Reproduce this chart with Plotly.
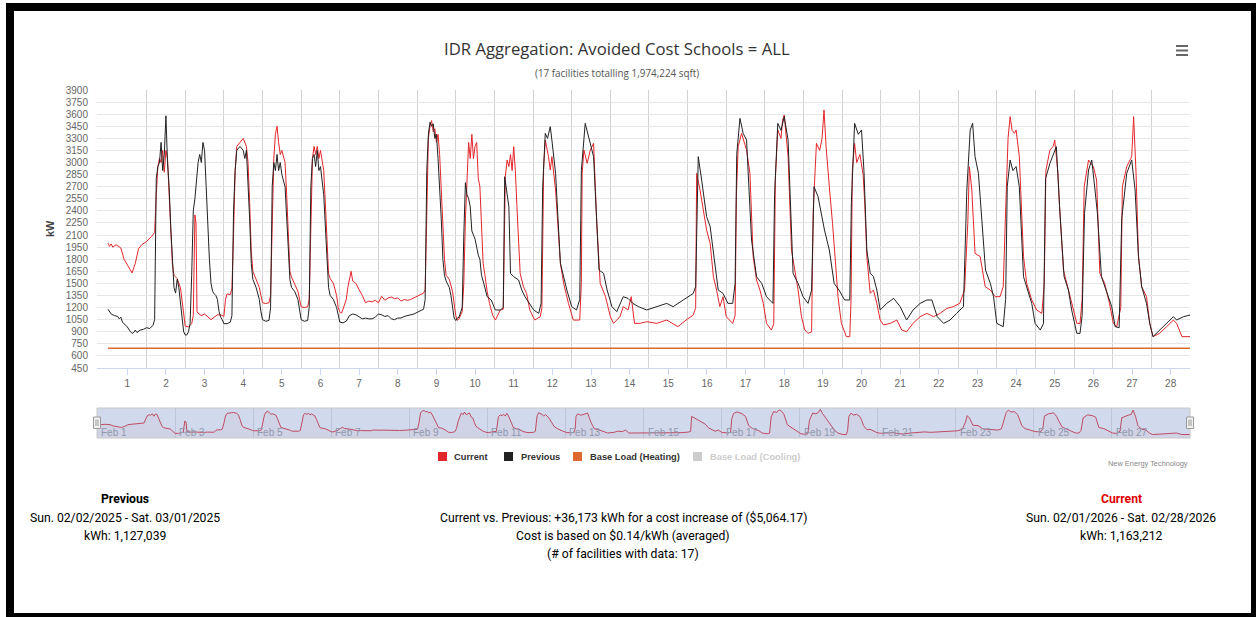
import plotly.graph_objects as go

# ---------------- data ----------------
days = [str(d) for d in range(1, 29)]
nav_labels = ["Feb 1", "Feb 3", "Feb 5", "Feb 7", "Feb 9", "Feb 11", "Feb 13",
              "Feb 15", "Feb 17", "Feb 19", "Feb 21", "Feb 23", "Feb 25", "Feb 27"]

# hours since Feb 1 00:00 and kW (Current)
cur_h = [0, 1, 2, 3, 5, 8, 10, 12, 14, 15, 17, 19, 21, 24, 27, 29, 30, 31, 32, 33, 34, 35, 36, 37, 38, 39, 40, 41, 43, 45,
         46, 47, 48, 50, 52, 53, 54, 54.7, 55.3, 56, 58, 60, 62, 64, 66, 68, 70, 72, 73, 74, 76, 77, 78, 79, 80, 82, 84, 86, 87, 88,
         89, 90, 92, 94, 95, 96, 98, 100, 101, 102, 103, 104, 105, 106, 107, 108, 110, 111, 112, 113, 114, 116, 118, 119, 120, 122, 124, 125, 126, 127,
         128, 129, 130, 131, 132, 134, 135, 136, 137, 138, 140, 142, 143, 144, 145, 146, 148, 149, 150, 151, 152, 154, 156, 158, 160, 162, 164, 166, 168, 170,
         172, 174, 176, 178, 180, 182, 184, 186, 188, 190, 192, 194, 196, 197, 198, 199, 200, 201, 202, 203, 204, 205, 206, 207, 208, 209, 210, 212, 214, 215,
         216, 217, 218, 220, 221, 222, 223, 224, 225, 226, 227, 228, 229, 230, 231, 232, 233, 234, 235.5, 237, 239, 240.6, 243.7, 245.5, 246.8, 247.9, 249, 250,
         251, 252, 253, 254, 256, 258, 260, 262, 265, 268.5, 269.5, 270.6, 271.6, 273.6, 274.7, 275.7, 278, 281, 283, 286, 289, 293, 294, 294.5, 295.6, 297.6,
         299.6, 301.6, 303.6, 305.7, 309, 312, 314, 318, 320, 323, 325, 327, 330.5, 334.6, 340.8, 347, 351, 354, 359, 363.5, 365, 365.6, 367.7, 371.8,
         374, 376, 378, 380, 382, 384, 388, 389.5, 390.3, 391.4, 393.5, 395.5, 396.6, 398.7, 400.7, 402.8, 404.9, 407, 409, 412, 413.5, 414.5, 416, 418,
         419, 420, 421, 422.4, 424.5, 426.6, 428.6, 430.7, 432.8, 434.8, 437, 438, 440, 442, 443.5, 444.7, 446, 448, 450, 453.4, 455.5, 458.6, 460.7, 461.5,
         462.3, 463.7, 465, 467, 469, 470, 471.3, 473.4, 475.4, 477.5, 479.6, 481.7, 485.8, 490, 493, 496, 500, 504.4, 508.6, 512.7, 516.8, 521, 525, 529,
         532, 534, 535, 536.5, 538.5, 541.7, 544.8, 548, 551, 554, 556, 557.5, 559, 560.3, 561.5, 563, 564, 566, 568.6, 570.6, 573.7, 576.8, 580, 581.5,
         582.5, 585, 587, 588, 590, 591, 593.4, 595.5, 598.5, 601.7, 603.7, 605, 606.3, 609, 610.5, 612, 614, 616, 619, 622, 624.4, 626.5, 629, 630,
         632.7, 634, 635.8, 637, 638.5, 640, 642, 645, 647, 649, 653, 657.5, 661.7, 663.7, 667, 672]
cur_v = [2000, 1960, 1990, 1950, 1980, 1940, 1800, 1730, 1660, 1630, 1750, 1930, 1980, 2020, 2080, 2130, 2600, 2950, 3050, 3000, 3150, 2880, 3150, 3050, 2600, 2100, 1750, 1600, 1560, 1450,
         1300, 1100, 970, 960, 1000, 1100, 2350, 2250, 1150, 1130, 1100, 1120, 1080, 1050, 1080, 1110, 1110, 1090, 1300, 1370, 1360, 1440, 2100, 2900, 3200, 3250, 3300, 3200, 3000, 2500,
         1900, 1650, 1550, 1450, 1350, 1260, 1250, 1260, 1350, 2400, 3050, 3350, 3450, 3250, 3100, 3150, 3000, 2600, 2000, 1650, 1580, 1500, 1400, 1300, 1210, 1200, 1210, 1300, 2400, 3050,
         3200, 3100, 3200, 3050, 3150, 2900, 2500, 2000, 1620, 1560, 1500, 1350, 1200, 1150, 1130, 1180, 1300, 1450, 1580, 1650, 1530, 1500, 1420, 1350, 1260, 1280, 1270, 1290, 1260, 1340,
         1290, 1320, 1330, 1310, 1320, 1280, 1300, 1290, 1300, 1320, 1340, 1360, 1380, 1420, 2200, 3300, 3450, 3520, 3380, 3420, 3250, 3350, 3100, 2700, 2200, 1800, 1600, 1550, 1400, 1250,
         1100, 1040, 1060, 1150, 1500, 2300, 2900, 3250, 3050, 3350, 3050, 3200, 3250, 2800, 2700, 2200, 1750, 1620, 1400, 1250, 1100, 1045, 1170, 1180, 2824, 3031, 2950, 3100,
         2900, 3197, 2900, 2452, 1625, 1459, 1376, 1170, 1045, 1087, 1200, 2948, 3279, 3073, 2907, 3073, 2659, 1749, 1500, 1252, 1045, 1045, 1500, 2866, 3155, 2990,
         3155, 3238, 2245, 1500, 1335, 1087, 1004, 1087, 1211, 1170, 1335, 1004, 1004, 1025, 1004, 1045, 1004, 963, 1045, 1107, 1200, 2866, 2659, 2162,
         1997, 1583, 1418, 1211, 1335, 1087, 1004, 1100, 2600, 3197, 3362, 3238, 3155, 2866, 1832, 1542, 1418, 1252, 1004, 921, 1000, 2800, 3404, 3300,
         3527, 3590, 3400, 3073, 1914, 1666, 1418, 1087, 921, 880, 900, 2400, 3238, 3150, 3300, 3652, 3197, 2700, 2245, 1335, 1004, 839, 839, 1300,
         2900, 3238, 3000, 3100, 2850, 2500, 1832, 1376, 1418, 1252, 1045, 983, 1004, 1045, 921, 900, 1004, 1087, 1128, 1087, 1128, 1190, 1211, 1252,
         1418, 2245, 2948, 2659, 1873, 1832, 1459, 1418, 1335, 1335, 1459, 2400, 3300, 3569, 3400, 3362, 3404, 3073, 1832, 1500, 1294, 1170, 1128, 1500,
         2900, 3155, 3200, 3279, 2866, 2452, 1666, 1500, 1252, 1004, 1004, 1300, 2700, 3031, 2990, 2948, 2783, 1625, 1500, 1252, 1004, 963, 1200, 2700,
         2948, 3000, 3073, 3569, 2866, 1832, 1459, 1335, 1004, 839, 880, 963, 1045, 1004, 839, 839]

# Previous
prev_h = [0, 1, 2, 4, 6, 7, 8, 9, 10, 12, 14, 15, 16, 17, 18, 20, 22, 24, 26, 28, 29, 30, 31, 32, 33, 34, 35, 36, 37, 38,
          39, 40, 41, 42, 43, 44, 45, 46, 47, 48, 49, 50, 51, 52, 53, 54, 55, 56, 57, 58, 59, 60, 61, 62, 63, 64, 65, 66, 67, 68,
          69, 70, 71, 72, 74, 76, 77, 78, 79, 80, 82, 84, 85, 86, 87, 88, 89, 90, 92, 94, 95, 96, 98, 100, 101, 102, 103, 104, 105, 106,
          107, 108, 110, 111, 112, 113, 114, 116, 118, 119, 120, 122, 124, 125, 126, 127, 128, 129, 130, 131, 132, 134, 135, 136, 137, 138, 140, 142, 143, 144,
          146, 148, 150, 152, 154, 156, 158, 160, 162, 164, 166, 168, 170, 172, 174, 176, 178, 180, 182, 184, 186, 188, 190, 192, 194, 196, 197, 198, 199, 200,
          201, 202, 203, 204, 205, 206, 207, 208, 209, 210, 212, 213, 214, 215, 216, 217, 218, 219, 220, 221, 222, 223, 224, 225, 226, 227, 228, 229, 230, 231,
          232, 233.4, 235.5, 238, 240.6, 243.7, 245.5, 246.4, 247.9, 249, 250, 252, 255, 257, 259, 262, 264.4, 267.5, 269, 270, 271.6, 273, 274.7, 275.7, 278, 281,
          283, 285, 288, 291, 293, 294, 296.4, 298.5, 300, 301.6, 302.6, 305, 307.8, 310, 313, 316, 320, 323, 326, 329.5, 334.6, 340.8, 347, 351, 357, 363.5,
          365, 366.6, 368.7, 371.8, 374, 377, 379, 382, 385, 388, 389.5, 390.5, 392.5, 394.5, 396.6, 399.7, 402.8, 406, 409, 413, 414, 416, 418, 420,
          422.4, 425.5, 428.6, 431.7, 434.8, 437, 438.5, 441, 445, 448, 451, 454, 457.5, 460.7, 461.7, 463.7, 466, 468, 469.5, 471.3, 473.4, 475.4, 477.5, 479.6,
          483.7, 488, 492, 496, 500, 504.4, 508.6, 511.7, 515, 519, 523, 527, 531.3, 533.4, 535.5, 537, 538.5, 540.6, 542.7, 545, 548, 550, 552, 556,
          557.5, 558.5, 560.3, 562, 564, 566, 568.6, 570.6, 573.7, 575.8, 579, 581, 582.3, 585, 587, 589, 591, 593.8, 596.5, 598.5, 601.7, 603.7, 605, 606.5,
          609, 611, 613, 614.5, 617, 620, 623.4, 625.5, 628, 629.6, 632.7, 635.8, 637.9, 640, 642, 645, 647, 649, 653, 657.5, 661.7, 663.7, 668, 672]
prev_v = [1180, 1140, 1120, 1100, 1090, 1060, 1080, 1020, 1000, 960, 900, 880, 890, 920, 890, 920, 930, 950, 940, 980, 1050, 2800, 2950, 3000, 3250, 2900, 3100, 3580, 3000, 2700,
          2200, 1750, 1450, 1380, 1550, 1450, 1250, 1050, 900, 860, 860, 900, 1000, 1600, 2400, 2550, 2800, 3000, 3100, 3000, 3250, 3150, 2700, 2200, 1800, 1500, 1400, 1370, 1350, 1300,
          1150, 1080, 1050, 1000, 1000, 1020, 1100, 2400, 2900, 3150, 3200, 3150, 3050, 3150, 2800, 2300, 1750, 1550, 1450, 1300, 1150, 1050, 1030, 1040, 1200, 2700, 3000, 2900, 3100, 2900,
          3000, 2850, 2700, 2300, 1800, 1550, 1450, 1400, 1300, 1150, 1050, 1030, 1040, 1200, 2700, 3050, 3100, 2950, 3150, 2900, 2950, 2600, 2200, 1700, 1450, 1350, 1300, 1200, 1100, 1020,
          1010, 1030, 1100, 1120, 1110, 1090, 1060, 1070, 1060, 1060, 1080, 1120, 1110, 1090, 1100, 1060, 1050, 1070, 1070, 1090, 1100, 1110, 1120, 1140, 1160, 1180, 1300, 2900, 3350, 3500,
          3450, 3480, 3300, 3350, 3050, 2700, 2300, 1800, 1600, 1530, 1450, 1350, 1200, 1070, 1040, 1070, 1080, 1130, 1200, 2100, 2750, 2600, 2550, 2450, 2150, 2100, 2050, 1950, 1850, 1800,
          1600, 1500, 1335, 1294, 1170, 1170, 1200, 2824, 2576, 2452, 1625, 1583, 1542, 1418, 1335, 1252, 1170, 1128, 1250, 2700, 3362, 3300, 3445, 3279, 2866, 1749,
          1583, 1418, 1211, 1170, 1300, 2900, 3486, 3321, 3200, 3073, 2659, 1666, 1625, 1418, 1211, 1149, 1335, 1314, 1252, 1211, 1170, 1211, 1252, 1211, 1294, 1376,
          1459, 3073, 2783, 2328, 2204, 1749, 1418, 1376, 1252, 1252, 1500, 3100, 3548, 3362, 3279, 2038, 1583, 1500, 1335, 1252, 2600, 3486, 3400, 3569,
          3279, 1625, 1500, 1335, 1252, 1418, 2700, 2576, 2162, 1914, 1500, 1418, 1294, 1294, 2500, 3486, 3350, 3404, 2900, 1914, 1625, 1583, 1418, 1170,
          1252, 1314, 1211, 1045, 1170, 1252, 1294, 1294, 1087, 1004, 1045, 1128, 1211, 2659, 3404, 3486, 3073, 2866, 2245, 1666, 1500, 1335, 1004, 963,
          1300, 2700, 3031, 2900, 2950, 2700, 1583, 1459, 1252, 1004, 921, 1000, 2800, 2990, 3100, 3197, 2452, 1583, 1418, 1170, 880, 880, 1100, 2369,
          2907, 3031, 2659, 2369, 1583, 1418, 1211, 963, 950, 2300, 2866, 3031, 2659, 1832, 1459, 1252, 1004, 839, 921, 1004, 1087, 1045, 1087, 1107]

base_h = [0, 672]
base_v = [695, 695]

# ---------------- layout helpers (pixel -> paper) ----------------
W, H = 1256, 617
L, R, T, B = 97, 1190, 90, 438
def px(x):
    return (x - L) / (R - L)
def py(y):
    return (B - y) / (B - T)

RED = "#e3262b"
BLACK = "#222222"
ORANGE = "#de6a30"

fig = go.Figure()
fig.add_trace(go.Scatter(x=cur_h, y=cur_v, mode="lines", name="Current",
                         line=dict(color=RED, width=1), showlegend=False, hoverinfo="skip"))
fig.add_trace(go.Scatter(x=prev_h, y=prev_v, mode="lines", name="Previous",
                         line=dict(color=BLACK, width=1), showlegend=False, hoverinfo="skip"))
fig.add_trace(go.Scatter(x=base_h, y=base_v, mode="lines", name="Base Load (Heating)",
                         line=dict(color=ORANGE, width=1.6), showlegend=False, hoverinfo="skip"))
# navigator series
fig.add_trace(go.Scatter(x=cur_h, y=cur_v, mode="lines", xaxis="x2", yaxis="y2",
                         line=dict(color="#e5333a", width=1), fill="tozeroy",
                         fillcolor="rgba(230,40,40,0.05)", showlegend=False, hoverinfo="skip"))

main_bottom = py(368)
fig.update_layout(
    width=W, height=H,
    margin=dict(l=L, r=W - R, t=T, b=H - B),
    paper_bgcolor="white", plot_bgcolor="white",
    font=dict(family="Liberation Sans, Arial, sans-serif", color="#333"),
    xaxis=dict(domain=[0, 1], range=[-6.8, 672], anchor="y",
               tickmode="array", tickvals=[12 + 24 * i for i in range(28)], ticktext=days,
               ticks="outside", ticklen=6, tickcolor="#ccd6eb",
               showline=True, linecolor="#ccd6eb", linewidth=1,
               showgrid=False, zeroline=False,
               tickfont=dict(size=10, color="#666"),
               minor=dict(tickmode="array", tickvals=[24 * i for i in range(1, 28)],
                          showgrid=True, gridcolor="#d3d3d3", gridwidth=1, ticks="")),
    yaxis=dict(domain=[main_bottom, 1], range=[450, 3900], tick0=450, dtick=150,
               gridcolor="#e6e6e6", zeroline=False, ticks="",
               tickfont=dict(size=10, color="#666"), ticklabelstandoff=8),
    xaxis2=dict(domain=[0, 1], range=[0, 672], anchor="y2", showticklabels=False,
                showgrid=True, tick0=0, dtick=48, gridcolor="#e2e2e2", zeroline=False),
    yaxis2=dict(domain=[0, py(408)], range=[450, 3800], showticklabels=False,
                showgrid=False, zeroline=False),
    showlegend=False,
)

shapes = []
# navigator mask
shapes.append(dict(type="rect", xref="paper", yref="paper", x0=0, x1=1, y0=0, y1=py(408),
                   fillcolor="rgba(102,133,194,0.3)", line=dict(color="#c8c8c8", width=1), layer="above"))
# navigator handles
for hx in (L, R):
    shapes.append(dict(type="rect", xref="paper", yref="paper",
                       x0=px(hx - 3.5), x1=px(hx + 3.5), y0=py(428.5), y1=py(417),
                       fillcolor="#f2f2f2", line=dict(color="#999", width=1), layer="above"))
    for dx in (-1, 1):
        shapes.append(dict(type="line", xref="paper", yref="paper",
                           x0=px(hx + dx), x1=px(hx + dx), y0=py(426), y1=py(419.5),
                           line=dict(color="#999", width=1), layer="above"))
# hamburger menu
for yy in (46, 50.5, 55):
    shapes.append(dict(type="line", xref="paper", yref="paper", x0=px(1176), x1=px(1188),
                       y0=py(yy), y1=py(yy), line=dict(color="#666", width=2)))
# legend squares
leg_items = [("Current", RED, 438, 452, "#333"), ("Previous", BLACK, 504, 518.5, "#333"),
             ("Base Load (Heating)", ORANGE, 573, 587.5, "#333"),
             ("Base Load (Cooling)", "#cccccc", 693, 708, "#cccccc")]
for name, col, sx, tx, tcol in leg_items:
    shapes.append(dict(type="rect", xref="paper", yref="paper", x0=px(sx), x1=px(sx + 9),
                       y0=py(461), y1=py(452), fillcolor=col, line=dict(width=0)))
# outer black frame
for x0, x1, y0, y1 in [(6, 14, 3, 617), (6, 1256, 3, 11), (1251, 1256, 3, 617), (6, 1256, 613, 617)]:
    shapes.append(dict(type="rect", xref="paper", yref="paper", x0=px(x0), x1=px(x1),
                       y0=py(y1), y1=py(y0), fillcolor="black", line=dict(width=0), layer="above"))
fig.update_layout(shapes=shapes)

ann = []
def text(x, y, s, size=12.2, color="#000", anchor="center", family="Roboto, sans-serif", bold=False, angle=0):
    if bold:
        s = "<b>" + s + "</b>"
    ann.append(dict(x=px(x), y=py(y), xref="paper", yref="paper", text=s, showarrow=False,
                    xanchor=anchor, yanchor="middle", textangle=angle,
                    font=dict(size=size, color=color, family=family)))

text(617, 48, "IDR Aggregation: Avoided Cost Schools = ALL", size=16.7, color="#333", family="Open Sans, sans-serif")
text(617, 73, "(17 facilities totalling 1,974,224 sqft)", size=9.9, color="#555", family="Open Sans, sans-serif")
text(50, 229, "kW", size=11, color="#444", family="Liberation Sans, Arial, sans-serif", bold=True, angle=-90)
for name, col, sx, tx, tcol in leg_items:
    text(tx, 456.5, name, size=9.3, color=tcol, anchor="left", family="Liberation Sans, Arial, sans-serif", bold=True)
text(1190, 463, "New Energy Technology", size=7.4, color="#888", anchor="right", family="Liberation Sans, Arial, sans-serif")
# navigator labels
for i, lab in enumerate(nav_labels):
    ann.append(dict(x=48 * i, y=py(432), xref="x2", yref="paper", text=lab, showarrow=False,
                    xanchor="left", yanchor="middle", xshift=2,
                    font=dict(size=10, color="#8f98ad", family="Liberation Sans, Arial, sans-serif")))
# summary texts
text(125, 499, "Previous", bold=True)
text(125, 518, "Sun. 02/02/2025 - Sat. 03/01/2025")
text(125, 536, "kWh: 1,127,039")
text(623, 518, "Current vs. Previous: +36,173 kWh for a cost increase of ($5,064.17)")
text(623, 536, "Cost is based on $0.14/kWh (averaged)")
text(623, 554, "(# of facilities with data: 17)")
text(1121, 499, "Current", bold=True, color="#e00000")
text(1121, 518, "Sun. 02/01/2026 - Sat. 02/28/2026")
text(1121, 536, "kWh: 1,163,212")
fig.update_layout(annotations=ann)

fig.write_html("out.html", config={"displayModeBar": False},
               post_script="document.body.style.margin='0';document.body.style.overflow='hidden';")
